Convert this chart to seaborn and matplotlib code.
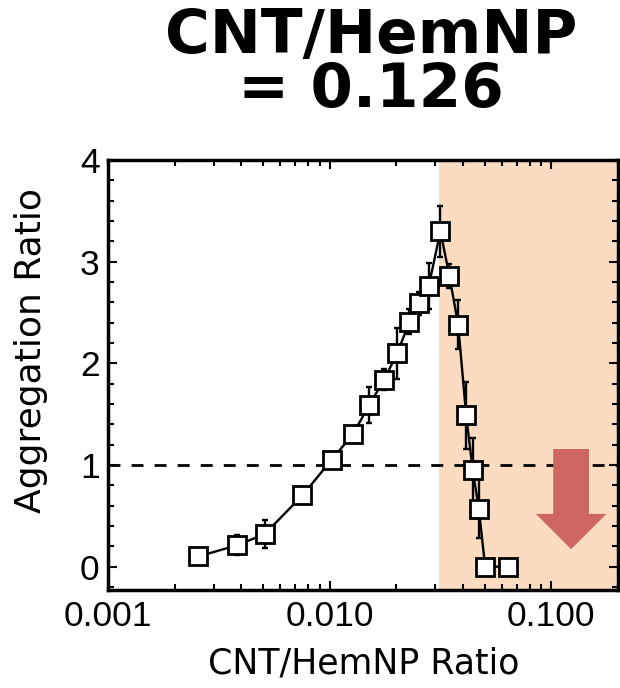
import numpy as np
import pandas as pd
import seaborn as sns
import matplotlib.pyplot as plt
from matplotlib.patches import Polygon
from matplotlib.ticker import MultipleLocator, FixedLocator, FuncFormatter

# data
ratio = [0.00255, 0.00382, 0.00509, 0.00753, 0.0102, 0.0127, 0.0151, 0.0176,
         0.0202, 0.0229, 0.0254, 0.0280, 0.0316, 0.0347, 0.0380, 0.0413,
         0.0442, 0.0471, 0.0503, 0.0636]
agg = [0.10, 0.21, 0.32, 0.70, 1.05, 1.30, 1.59, 1.84, 2.10, 2.41, 2.59, 2.76,
       3.30, 2.86, 2.38, 1.49, 0.95, 0.57, 0.0, 0.0]
agg_err = [0.04, 0.10, 0.14, 0.03, 0.03, 0.05, 0.18, 0.10, 0.25, 0.12, 0.11,
           0.23, 0.25, 0.12, 0.24, 0.33, 0.32, 0.29, 0.05, 0.05]
ratio_err = [0] * 18 + [0.0018, 0.0022]
shade_start = 0.0313
xticks = [0.001, 0.01, 0.1]

df = pd.DataFrame({'ratio': ratio, 'agg': agg})

sns.set_style('ticks', {'text.color': 'black', 'axes.labelcolor': 'black',
                        'axes.edgecolor': 'black', 'xtick.color': 'black',
                        'ytick.color': 'black'})
plt.rcParams['font.family'] = ['Liberation Sans', 'DejaVu Sans']

fig = plt.figure(figsize=(6.2, 6.88), dpi=100)
ax = fig.add_axes([0.1742, 0.1424, 0.8226, 0.625])

ax.axvspan(shade_start, 0.2, color='#fbdcc0', lw=0, zorder=0)
ax.axhline(1, color='black', lw=2, ls=(0, (4.3, 4)), zorder=1)

ax.errorbar(ratio, agg, yerr=agg_err, xerr=ratio_err, fmt='none', ecolor='black',
            elinewidth=1.7, capsize=2.5, capthick=1.7, zorder=2)
sns.lineplot(data=df, x='ratio', y='agg', ax=ax, color='black', lw=1.7,
             marker='s', markersize=12.5, markerfacecolor='white',
             markeredgecolor='black', markeredgewidth=2, zorder=3)

# red arrow pointing down
arrow = Polygon([[0.873, 0.328], [0.943, 0.328], [0.943, 0.177], [0.977, 0.177],
                 [0.908, 0.095], [0.839, 0.177], [0.873, 0.177]],
                closed=True, transform=ax.transAxes, color='#cd665f', lw=0, zorder=4)
ax.add_patch(arrow)

ax.set_xscale('log')
ax.set_xlim(0.001, 0.2)
ax.set_ylim(-0.23, 4)
ax.xaxis.set_major_locator(FixedLocator(xticks))
ax.xaxis.set_major_formatter(FuncFormatter(lambda v, p: f'{v:.3f}'))
ax.yaxis.set_major_locator(MultipleLocator(1))
ax.yaxis.set_minor_locator(MultipleLocator(0.2))
ax.tick_params(which='both', direction='in', top=True, right=True, width=1.5,
               color='black', labelcolor='black')
ax.tick_params(which='major', length=6.5, labelsize=25.5)
ax.tick_params(axis='x', which='major', pad=7)
ax.tick_params(axis='y', which='major', pad=6)
ax.tick_params(which='minor', length=4)
for s in ax.spines.values():
    s.set_linewidth(2.5)
    s.set_color('black')

ax.set_xlabel('CNT/HemNP Ratio', fontsize=25, family='DejaVu Sans', color='black')
ax.set_ylabel('Aggregation Ratio', fontsize=26, family='DejaVu Sans', color='black')
ax.xaxis.set_label_coords(0.501, -0.17)
ax.yaxis.set_label_coords(-0.151, 0.558)
ax.yaxis.label.set_va('center')
ax.xaxis.label.set_va('center')

fig.text(0.598, 0.923, 'CNT/HemNP', ha='center', va='baseline', fontsize=44,
         fontweight='bold', family='DejaVu Sans', color='black')
fig.text(0.598, 0.8445, '= 0.126', ha='center', va='baseline', fontsize=44,
         fontweight='bold', family='DejaVu Sans', color='black')

plt.savefig('out.png', dpi=100)
